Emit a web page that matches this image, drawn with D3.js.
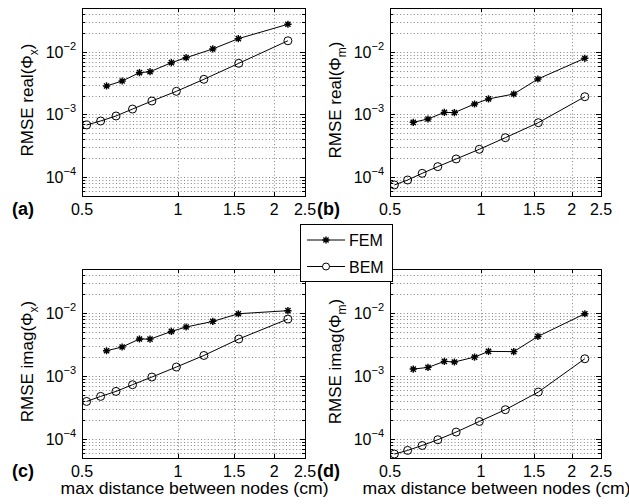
<!DOCTYPE html>
<html>
<head>
<meta charset="utf-8">
<script src="https://cdnjs.cloudflare.com/ajax/libs/d3/7.8.5/d3.min.js"></script>
<style>
  body { margin: 0; background: #fff; }
  svg { display: block; font-family: "Liberation Sans", Arial, Helvetica, sans-serif; }
</style>
</head>
<body>
<svg id="chart" width="629" height="504"></svg>
<script>
// mesh sizes (max distance between nodes, cm)
var xFEM = [0.597, 0.668, 0.757, 0.817, 0.953, 1.06, 1.285, 1.545, 2.21];
var xBEM = [0.517, 0.572, 0.639, 0.72, 0.828, 0.988, 1.205, 1.55, 2.21];

// RMSE values
var femRealX = [2.85e-3, 3.42e-3, 4.64e-3, 4.81e-3, 6.7e-3, 8.05e-3, 1.11e-2, 1.62e-2, 2.75e-2];
var bemRealX = [6.8e-4, 7.87e-4, 9.46e-4, 1.22e-3, 1.64e-3, 2.34e-3, 3.64e-3, 6.55e-3, 1.5e-2];
var femRealM = [7.5e-4, 8.47e-4, 1.08e-3, 1.07e-3, 1.47e-3, 1.77e-3, 2.12e-3, 3.68e-3, 7.88e-3];
var bemRealM = [7.5e-5, 9.0e-5, 1.15e-4, 1.47e-4, 1.95e-4, 2.78e-4, 4.26e-4, 7.39e-4, 1.92e-3];
var femImagX = [2.52e-3, 2.89e-3, 3.87e-3, 3.85e-3, 5.1e-3, 6.0e-3, 7.36e-3, 9.75e-3, 1.09e-2];
var bemImagX = [3.95e-4, 4.75e-4, 5.7e-4, 7.28e-4, 9.64e-4, 1.39e-3, 2.12e-3, 3.87e-3, 8.03e-3];
var femImagM = [1.29e-3, 1.37e-3, 1.71e-3, 1.67e-3, 2.0e-3, 2.46e-3, 2.44e-3, 4.25e-3, 9.75e-3];
var bemImagM = [5.78e-5, 6.6e-5, 7.9e-5, 9.75e-5, 1.29e-4, 1.9e-4, 2.92e-4, 5.57e-4, 1.88e-3];

var xTicks = [0.5, 1, 1.5, 2, 2.5];
var xTickLabels = ['0.5', '1', '1.5', '2', '2.5'];
var yTicks = [1e-4, 1e-3, 1e-2];
var yTickExps = ['\u22124', '\u22123', '\u22122'];
var seriesNames = ['FEM', 'BEM'];
var xTitle = 'max distance between nodes (cm)';

var panels = [
  {tag: '(a)', part: 'real', sub: 'x', fem: femRealX, bem: bemRealX, left: 82, right: 305, top: 8, bottom: 196, lx: 12, xTitle: false},
  {tag: '(b)', part: 'real', sub: 'm', fem: femRealM, bem: bemRealM, left: 390, right: 601, top: 8, bottom: 196, lx: 317, xTitle: false},
  {tag: '(c)', part: 'imag', sub: 'x', fem: femImagX, bem: bemImagX, left: 82, right: 305, top: 269, bottom: 458, lx: 12, xTitle: true},
  {tag: '(d)', part: 'imag', sub: 'm', fem: femImagM, bem: bemImagM, left: 390, right: 601, top: 269, bottom: 458, lx: 317, xTitle: true}
];

var svg = d3.select('#chart');

// matlab style '*' marker (plus + cross)
function starPath(x, y, r) {
  var d = r * 0.72;
  return 'M' + (x - r) + ',' + y + 'H' + (x + r) +
    'M' + x + ',' + (y - r) + 'V' + (y + r) +
    'M' + (x - d) + ',' + (y - d) + 'L' + (x + d) + ',' + (y + d) +
    'M' + (x - d) + ',' + (y + d) + 'L' + (x + d) + ',' + (y - d);
}

function drawPanel(p) {
  var x = d3.scaleLog().domain([0.5, 2.5]).range([p.left, p.right]);
  var y = d3.scaleLog().domain([5e-5, 5e-2]).range([p.bottom, p.top]);
  var g = svg.append('g');

  // minor y values 2..9 x 10^k plus decades
  var yGrid = [];
  [-5, -4, -3, -2].forEach(function(e) {
    for (var m = 1; m <= 9; m++) {
      var v = m * Math.pow(10, e);
      if (v > 5e-5 && v < 5e-2) yGrid.push({v: v, major: m === 1});
    }
  });

  g.selectAll('.hgrid').data(yGrid).enter().append('line')
    .attr('x1', p.left).attr('x2', p.right)
    .attr('y1', function(d) { return Math.round(y(d.v)) + 0.5; })
    .attr('y2', function(d) { return Math.round(y(d.v)) + 0.5; })
    .attr('stroke', '#666').attr('stroke-width', 0.8)
    .attr('stroke-dasharray', '1,2.4');

  g.selectAll('.vgrid').data(xTicks.slice(1, -1)).enter().append('line')
    .attr('x1', function(d) { return Math.round(x(d)) + 0.5; })
    .attr('x2', function(d) { return Math.round(x(d)) + 0.5; })
    .attr('y1', p.top).attr('y2', p.bottom)
    .attr('stroke', '#666').attr('stroke-width', 0.8)
    .attr('stroke-dasharray', '1,2.4');

  // tick marks, inward on all four sides
  var tk = g.append('g').attr('stroke', '#000').attr('stroke-width', 1);
  xTicks.forEach(function(t) {
    var xx = Math.round(x(t)) + 0.5;
    tk.append('line').attr('x1', xx).attr('x2', xx).attr('y1', p.bottom).attr('y2', p.bottom - 4);
    tk.append('line').attr('x1', xx).attr('x2', xx).attr('y1', p.top).attr('y2', p.top + 4);
  });
  yGrid.forEach(function(d) {
    var yy = Math.round(y(d.v)) + 0.5;
    var len = d.major ? 5 : 3;
    tk.append('line').attr('x1', p.left).attr('x2', p.left + len).attr('y1', yy).attr('y2', yy);
    tk.append('line').attr('x1', p.right).attr('x2', p.right - len).attr('y1', yy).attr('y2', yy);
  });

  g.append('rect')
    .attr('x', p.left + 0.5).attr('y', p.top + 0.5)
    .attr('width', p.right - p.left).attr('height', p.bottom - p.top)
    .attr('fill', 'none').attr('stroke', '#000').attr('stroke-width', 1);

  // x tick labels
  g.selectAll('.xl').data(xTicks).enter().append('text')
    .attr('x', function(d) { return x(d); })
    .attr('y', p.bottom + 19)
    .attr('text-anchor', 'middle')
    .attr('font-size', 16)
    .text(function(d, i) { return xTickLabels[i]; });

  // y tick labels 10^k
  yTicks.forEach(function(t, i) {
    var tx = g.append('text')
      .attr('x', p.left - 6)
      .attr('y', y(t) + 6)
      .attr('text-anchor', 'end')
      .attr('font-size', 16);
    tx.append('tspan').text('10');
    tx.append('tspan').attr('dy', -8).attr('font-size', 11).text(yTickExps[i]);
  });

  // y title
  var yt = g.append('text')
    .attr('transform', 'translate(' + (p.left - 49) + ',' + ((p.top + p.bottom) / 2 - 2) + ') rotate(-90)')
    .attr('text-anchor', 'middle')
    .attr('font-size', 17);
  yt.append('tspan').text('RMSE ' + p.part + '(\u03A6');
  yt.append('tspan').attr('dy', 5).attr('font-size', 12).text(p.sub);
  yt.append('tspan').attr('dy', -5).text(')');

  // panel tag
  g.append('text')
    .attr('x', p.lx).attr('y', p.bottom + 19)
    .attr('font-size', 18).attr('font-weight', 'bold')
    .text(p.tag);

  if (p.xTitle) {
    g.append('text')
      .attr('x', (p.left + p.right) / 2 + 1)
      .attr('y', 494)
      .attr('text-anchor', 'middle')
      .attr('font-size', 17)
      .attr('textLength', 268)
      .attr('lengthAdjust', 'spacingAndGlyphs')
      .text(xTitle);
  }

  var line = d3.line()
    .x(function(d) { return x(d[0]); })
    .y(function(d) { return y(d[1]); });

  var fem = d3.zip(xFEM, p.fem);
  var bem = d3.zip(xBEM, p.bem);

  g.append('path').datum(fem).attr('d', line)
    .attr('fill', 'none').attr('stroke', '#000').attr('stroke-width', 1);
  g.append('path').datum(bem).attr('d', line)
    .attr('fill', 'none').attr('stroke', '#000').attr('stroke-width', 1);

  g.selectAll('.star').data(fem).enter().append('path')
    .attr('d', function(d) { return starPath(x(d[0]), y(d[1]), 3.6); })
    .attr('fill', 'none').attr('stroke', '#000').attr('stroke-width', 1.4);

  g.selectAll('.circ').data(bem).enter().append('circle')
    .attr('cx', function(d) { return x(d[0]); })
    .attr('cy', function(d) { return y(d[1]); })
    .attr('r', 4)
    .attr('fill', 'none').attr('stroke', '#000').attr('stroke-width', 1);
}

panels.forEach(drawPanel);

// legend sits over the top-left corner of panel (d)
var lg = svg.append('g');
lg.append('rect')
  .attr('x', 300.5).attr('y', 224.5).attr('width', 92).attr('height', 57)
  .attr('fill', '#fff').attr('stroke', '#000').attr('stroke-width', 1);

seriesNames.forEach(function(name, i) {
  var ly = 240 + i * 26.5;
  lg.append('line').attr('x1', 307).attr('x2', 345).attr('y1', ly).attr('y2', ly)
    .attr('stroke', '#000').attr('stroke-width', 1);
  if (i === 0) {
    lg.append('path').attr('d', starPath(326, ly, 3.6))
      .attr('fill', 'none').attr('stroke', '#000').attr('stroke-width', 1.4);
  } else {
    lg.append('circle').attr('cx', 326).attr('cy', ly).attr('r', 3.5)
      .attr('fill', '#fff').attr('stroke', '#000').attr('stroke-width', 1);
  }
  lg.append('text').attr('x', 349).attr('y', ly + 6)
    .attr('font-size', 16).text(name);
});
</script>
</body>
</html>
